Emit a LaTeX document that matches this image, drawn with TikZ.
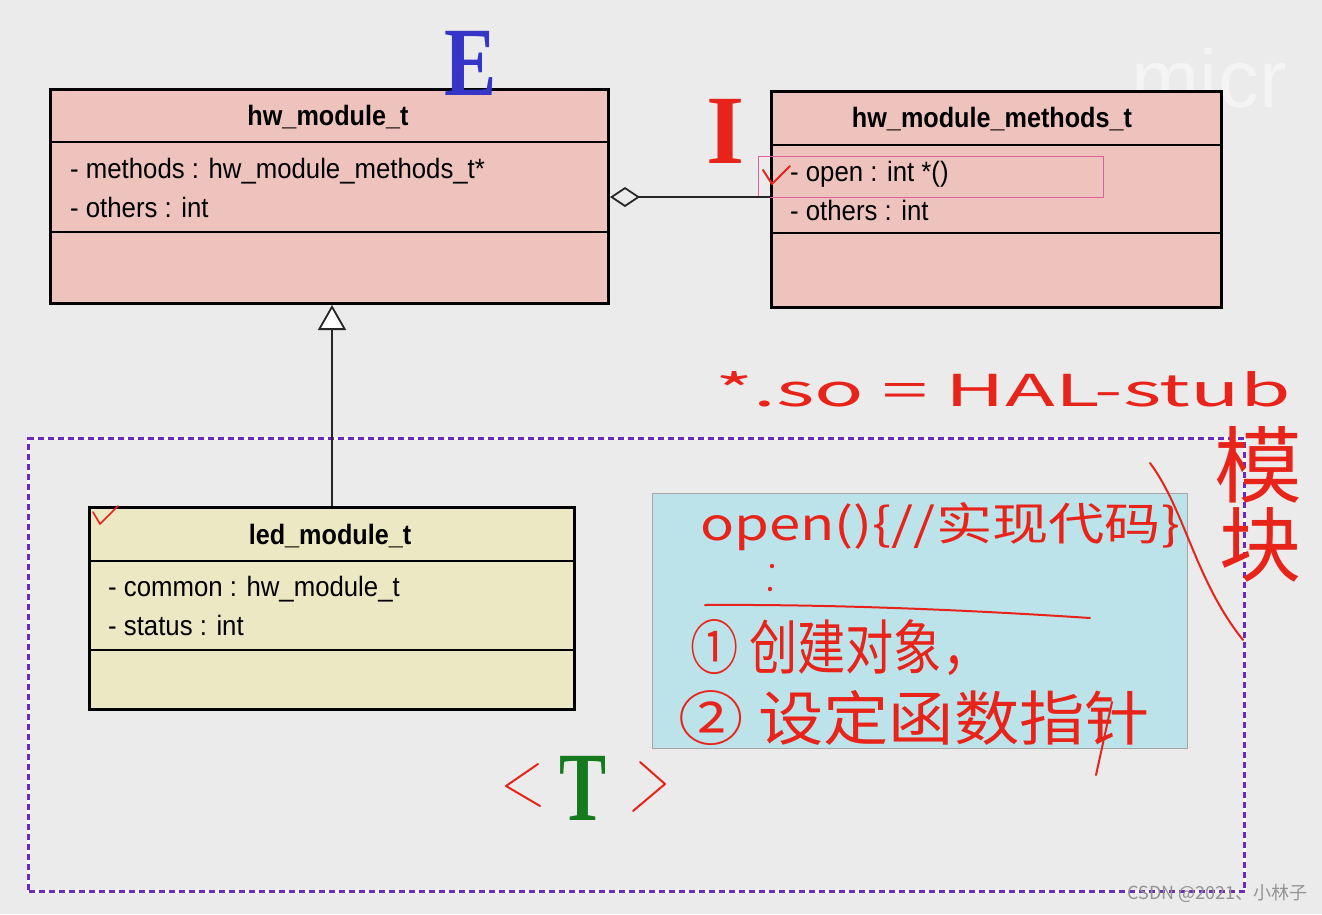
\documentclass[tikz,border=0pt]{standalone}
\usepackage{fontspec}
\setmainfont{Liberation Sans}
\newfontfamily\cjk{Noto Sans CJK SC}
\newfontfamily\serifb{Liberation Serif}
\usetikzlibrary{arrows.meta}
\definecolor{bg}{HTML}{EBEBEB}
\definecolor{pinkfill}{HTML}{EEC3BE}
\definecolor{yellowfill}{HTML}{EDE8C4}
\definecolor{bluefill}{HTML}{BDE3EA}
\definecolor{hand}{HTML}{E8231A}
\definecolor{Eblue}{HTML}{3535C8}
\definecolor{Tgreen}{HTML}{157A1E}
\definecolor{dashpurple}{HTML}{6A2CC0}
\definecolor{selpink}{HTML}{E0609A}
\newcommand{\ttl}[1]{\scalebox{0.9}[1]{#1}}
\newcommand{\atr}[1]{\scalebox{0.92}[1]{#1}}
\begin{document}
\begin{tikzpicture}[x=1pt,y=-1pt,
  umlbox/.style={draw=black,line width=3pt,inner sep=0pt,anchor=north west},
  divider/.style={line width=2pt},
  title/.style={font=\bfseries\fontsize{28}{30}\selectfont,inner sep=0pt},
  attr/.style={font=\fontsize{28}{30}\selectfont,anchor=west,inner sep=0pt},
  handw/.style={text=hand,inner sep=0pt,anchor=west},
  handline/.style={draw=hand,line width=2pt,line cap=round,line join=round},
  bigletter/.style={font=\serifb\bfseries\fontsize{98}{98}\selectfont,inner sep=0pt},
  conn/.style={line width=1.8pt,draw=black!85}
]
\fill[bg] (0,0) rectangle (1322,914);
\useasboundingbox (0,0) rectangle (1322,914);

% watermark
\node[text=white!45!bg,font=\fontsize{82}{82}\selectfont,anchor=west] (micr) at (1128,78) {micr};

% dashed frame
\node[draw=white,line width=3pt,anchor=north west,minimum width=1216pt,minimum height=453pt,inner sep=0pt] (frameW) at (27,437) {};
\node[draw=dashpurple,line width=3pt,dash pattern=on 6pt off 4pt,anchor=north west,minimum width=1216pt,minimum height=453pt,inner sep=0pt] (frame) at (27,437) {};

% hw_module_t
\node[umlbox,fill=pinkfill,minimum width=558pt,minimum height=214pt] (hw) at (49,88) {};
\draw[divider] ([yshift=-54pt]hw.north west) -- ([yshift=-54pt]hw.north east);
\draw[divider] ([yshift=-144pt]hw.north west) -- ([yshift=-144pt]hw.north east);
\node[title] (hwt) at (328,117) {\ttl{hw\_module\_t}};
\node[attr] (hwa1) at (70,171) {\atr{- methods : hw\_module\_methods\_t*}};
\node[attr] (hwa2) at (70,207) {\atr{- others : int}};

% hw_module_methods_t
\node[umlbox,fill=pinkfill,minimum width=450pt,minimum height=216pt] (mt) at (770,90) {};
\draw[divider] ([yshift=-55pt]mt.north west) -- ([yshift=-55pt]mt.north east);
\draw[divider] ([yshift=-143pt]mt.north west) -- ([yshift=-143pt]mt.north east);
\node[title] (mtt) at (992,119) {\ttl{hw\_module\_methods\_t}};
\node[attr] (mta1) at (790,174) {\atr{- open : int *()}};
\node[attr] (mta2) at (790,210) {\atr{- others : int}};
\node[draw=selpink,line width=1.2pt,anchor=north west,minimum width=345pt,minimum height=41pt,inner sep=0pt] (sel) at (758,156) {};

% led_module_t
\node[umlbox,fill=yellowfill,minimum width=485pt,minimum height=202pt] (led) at (88,506) {};
\draw[divider] ([yshift=-55pt]led.north west) -- ([yshift=-55pt]led.north east);
\draw[divider] ([yshift=-144pt]led.north west) -- ([yshift=-144pt]led.north east);
\node[title] (ledt) at (330,536) {\ttl{led\_module\_t}};
\node[attr] (leda1) at (108,589) {\atr{- common : hw\_module\_t}};
\node[attr] (leda2) at (108,625) {\atr{- status : int}};

% connectors
\coordinate (yagg) at (0,197);
\draw[conn,{Diamond[open,length=30pt,width=20pt,line width=1.8pt]}-] (hw.east |- yagg) -- (mt.west |- yagg);
\draw[conn,-{Triangle[fill=white,length=25pt,width=28pt,line width=1.8pt]}] (led.north) -- (led.north |- hw.south);

% big letters
\node[bigletter,text=Eblue] (E) at (471,63) {\scalebox{0.8}[1]{E}};
\node[bigletter,text=hand] (I) at (726,131) {I};
\node[bigletter,text=Tgreen] (T) at (583,788) {\scalebox{0.72}[1]{T}};
\draw[handline] (538,764) -- (506,786) -- (540,806);
\draw[handline] (640,762) -- (665,784) -- (633,811);

% note box
\node[draw=gray!70,fill=bluefill,line width=1pt,anchor=north west,minimum width=535pt,minimum height=255pt,inner sep=0pt] (note) at (652,493) {};

% handwriting
\node[handw] (h0) at (715,389) {\resizebox{575pt}{35pt}{\cjk *.so = HAL-stub}};
\node[handw] (h1) at (700,527) {\resizebox{480pt}{38pt}{\cjk open()\{//实现代码\}}};
\fill[hand] (772,566) circle (2.2pt);
\fill[hand] (770,589) circle (2.2pt);
\draw[handline] (705,605) .. controls (850,604) and (1000,612) .. (1090,618);
\node[handw] (h2) at (690,648) {\resizebox{300pt}{50pt}{\cjk ① 创建对象，}};
\node[handw] (h3) at (678,718) {\resizebox{472pt}{50pt}{\cjk ② 设定函数指针}};
\draw[handline] (1112,702) -- (1096,775);
\draw[handline] (1150,463) .. controls (1185,510) and (1195,580) .. (1243,640);
\node[handw,anchor=center] (v1) at (1258,465) {\resizebox{88pt}{70pt}{\cjk 模}};
\node[handw,anchor=center] (v2) at (1260,545) {\resizebox{82pt}{68pt}{\cjk 块}};

% checks
\draw[handline] (763,170) -- (772,184) -- (790,166);
\draw[handline,line width=1.6pt] (93,512) -- (100,524) -- (118,506);

% footer watermark
\node[text=gray!85,font=\cjk\fontsize{18}{20}\selectfont,anchor=east,inner sep=0pt] (wm) at (1308,893) {CSDN @2021、小林子};
\end{tikzpicture}
\end{document}
